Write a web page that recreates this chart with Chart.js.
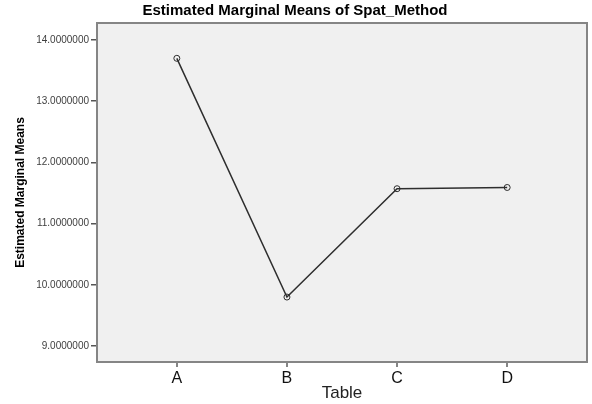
<!DOCTYPE html>
<html>
<head>
<meta charset="utf-8">
<script src="https://cdn.jsdelivr.net/npm/chart.js@4"></script>
<style>
  body { margin: 0; background: #fff; }
  #wrap { width: 592px; height: 404px; }
</style>
</head>
<body>
<div id="wrap"><canvas id="emmChart" width="592" height="404"></canvas></div>
<script>
const categories = ['A', 'B', 'C', 'D'];
const means = [13.70, 9.80, 11.57, 11.59];
const yTicks = [9, 10, 11, 12, 13, 14];

const plotFrame = {
  id: 'plotFrame',
  beforeDatasetsDraw(chart) {
    const { ctx, chartArea: a } = chart;
    ctx.save();
    ctx.fillStyle = '#f0f0f0';
    ctx.fillRect(a.left, a.top, a.right - a.left, a.bottom - a.top);
    ctx.strokeStyle = '#858585';
    ctx.lineWidth = 2;
    ctx.strokeRect(a.left, a.top, a.right - a.left, a.bottom - a.top);
    ctx.restore();
  }
};

new Chart(document.getElementById('emmChart'), {
  type: 'line',
  data: {
    datasets: [
      {
        data: means.map((v, i) => ({ x: i, y: v })),
        borderColor: '#2e2e2e',
        borderWidth: 1.5,
        tension: 0,
        fill: false,
        pointRadius: 3,
        pointBorderWidth: 1,
        pointBorderColor: '#2e2e2e',
        pointBackgroundColor: 'rgba(0,0,0,0)'
      }
    ]
  },
  options: {
    responsive: false,
    animation: false,
    layout: { padding: { left: 0, right: 2, top: 0, bottom: 0 } },
    plugins: {
      legend: { display: false },
      tooltip: { enabled: false },
      title: {
        display: true,
        text: 'Estimated Marginal Means of Spat_Method',
        color: '#000',
        font: { family: 'Liberation Sans', size: 15, weight: 'bold' },
        padding: { top: 2, bottom: 3 }
      }
    },
    scales: {
      x: {
        type: 'linear',
        min: -0.725,
        max: 3.725,
        afterBuildTicks(scale) {
          scale.ticks = categories.map((c, i) => ({ value: i }));
        },
        afterFit(scale) {
          scale.height = 42;
          scale.paddingLeft = 0;
          scale.paddingRight = 0;
        },
        border: { display: false },
        grid: { drawOnChartArea: false, color: '#858585', tickLength: 5, lineWidth: 2 },
        ticks: {
          padding: 2,
          color: '#111',
          font: { family: 'Liberation Sans', size: 16 },
          callback: (v) => categories[v]
        },
        title: {
          display: true,
          text: 'Table',
          color: '#222',
          font: { family: 'Liberation Sans', size: 17 },
          padding: { top: 0, bottom: 0 }
        }
      },
      y: {
        min: 8.739,
        max: 14.277,
        afterBuildTicks(scale) {
          scale.ticks = yTicks.map((v) => ({ value: v }));
        },
        afterFit(scale) { scale.width = 97; },
        border: { display: false },
        grid: { drawOnChartArea: false, color: '#555', tickLength: 6, lineWidth: 1.5 },
        ticks: {
          padding: 2,
          color: '#404040',
          font: { family: 'Liberation Sans', size: 10 },
          callback: (v) => v.toFixed(7)
        },
        title: {
          display: true,
          text: 'Estimated Marginal Means',
          color: '#000',
          font: { family: 'Liberation Sans', size: 12, weight: 'bold' },
          padding: { top: 13, bottom: 0 }
        }
      }
    }
  },
  plugins: [plotFrame]
});
</script>
</body>
</html>
